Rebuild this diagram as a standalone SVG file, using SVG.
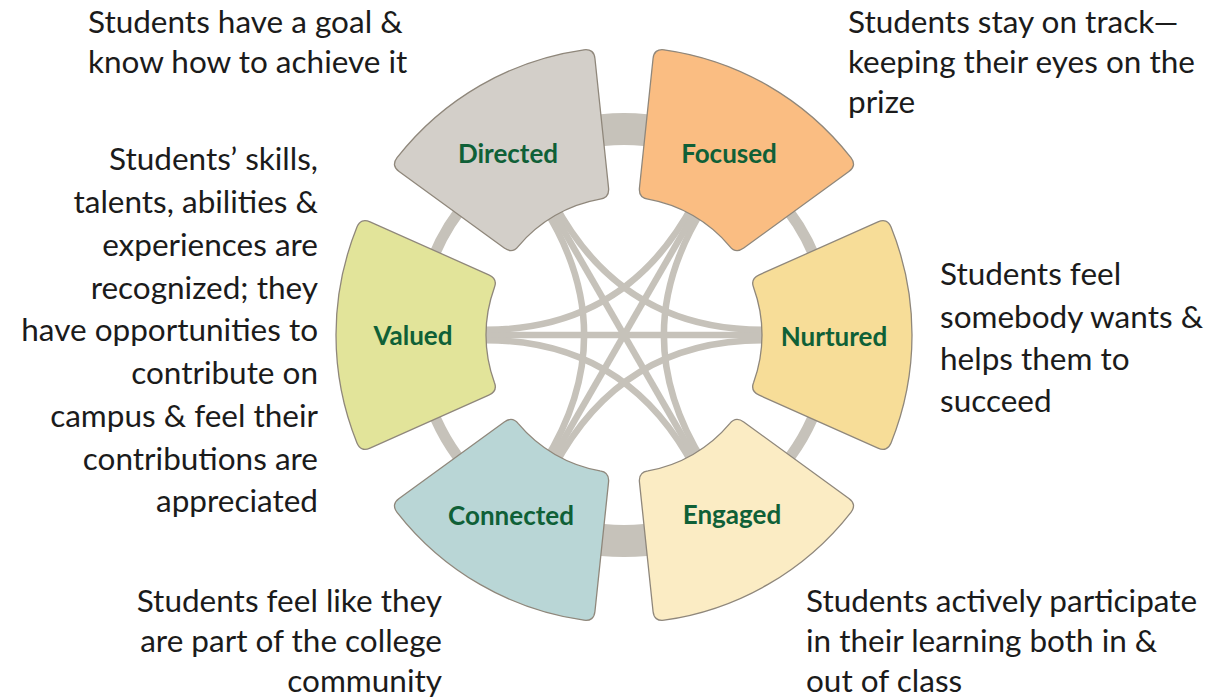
<svg xmlns="http://www.w3.org/2000/svg" xmlns:xlink="http://www.w3.org/1999/xlink" width="1216" height="700" viewBox="0 0 1216 700">
<style>
.chord{fill:none;stroke:#c6c2ba;stroke-width:6.5}
.adj{fill:none;stroke:#c6c2ba}
.sector{stroke:#8f877b;stroke-width:1.3}
.lbl{font-family:Lato,"Open Sans","DejaVu Sans",sans-serif;font-weight:700;font-size:26px;fill:#0f6037;text-anchor:middle}
.desc{font-family:Lato,"Open Sans","DejaVu Sans",sans-serif;font-size:31.5px;fill:#1b1b1b}
.r{text-anchor:end}
</style>
<defs>
<path id="sector" d="M 267.03 -107.89 A 288 288 0 0 1 267.03 107.89 Q 263.10 117.14 253.97 113.07 L 135.21 60.20 Q 126.07 56.13 129.68 47.20 A 138 138 0 0 0 129.68 -47.20 Q 126.07 -56.13 135.21 -60.20 L 253.97 -113.07 Q 263.10 -117.14 267.03 -107.89 Z"/>
</defs>
<rect width="1216" height="700" fill="#ffffff"/>
<g id="connectors">
<path class="adj" stroke-width="11" d="M 819.92 398.66 A 206 206 0 0 1 777.09 472.84"/>
<path class="adj" stroke-width="32" d="M 666.83 536.50 A 206 206 0 0 1 581.17 536.50"/>
<path class="adj" stroke-width="11" d="M 470.91 472.84 A 206 206 0 0 1 428.08 398.66"/>
<path class="adj" stroke-width="11" d="M 428.08 271.34 A 206 206 0 0 1 470.91 197.16"/>
<path class="adj" stroke-width="32" d="M 581.17 133.50 A 206 206 0 0 1 666.83 133.50"/>
<path class="adj" stroke-width="11" d="M 777.09 197.16 A 206 206 0 0 1 819.92 271.34"/>
<path class="chord" d="M 774 340.5 Q 624 335 553.76 467.65"/>
<path class="chord" d="M 774 335 L 474 335"/>
<path class="chord" d="M 774 329.5 Q 624 335 553.76 202.35"/>
<path class="chord" d="M 694.24 467.65 Q 624 335 474 340.5"/>
<path class="chord" d="M 699 464.9 L 549 205.1"/>
<path class="chord" d="M 703.76 462.15 Q 624 335 703.76 207.85"/>
<path class="chord" d="M 544.24 462.15 Q 624 335 544.24 207.85"/>
<path class="chord" d="M 549 464.9 L 699 205.1"/>
<path class="chord" d="M 474 329.5 Q 624 335 694.24 202.35"/>
</g>
<g id="node-directed">
<use xlink:href="#sector" class="sector" fill="#d3cfc9" transform="translate(624 335) rotate(240)"/>
<text class="lbl" x="508" y="163">Directed</text>
</g>
<g id="node-focused">
<use xlink:href="#sector" class="sector" fill="#fabd82" transform="translate(624 335) rotate(300)"/>
<text class="lbl" x="729" y="163">Focused</text>
</g>
<g id="node-nurtured">
<use xlink:href="#sector" class="sector" fill="#f7dd98" transform="translate(624 335) rotate(0)"/>
<text class="lbl" x="834" y="346">Nurtured</text>
</g>
<g id="node-engaged">
<use xlink:href="#sector" class="sector" fill="#fbecc4" transform="translate(624 335) rotate(60)"/>
<text class="lbl" x="732" y="524">Engaged</text>
</g>
<g id="node-connected">
<use xlink:href="#sector" class="sector" fill="#b9d6d6" transform="translate(624 335) rotate(120)"/>
<text class="lbl" x="511" y="525">Connected</text>
</g>
<g id="node-valued">
<use xlink:href="#sector" class="sector" fill="#e2e49a" transform="translate(624 335) rotate(180)"/>
<text class="lbl" x="413" y="345">Valued</text>
</g>
<g id="text-directed">
<text class="desc" x="88" y="33">Students have a goal &amp;</text>
<text class="desc" x="88" y="73">know how to achieve it</text>
</g>
<g id="text-focused">
<text class="desc" x="848" y="33">Students stay on track—</text>
<text class="desc" x="848" y="73">keeping their eyes on the</text>
<text class="desc" x="848" y="113">prize</text>
</g>
<g id="text-valued">
<text class="desc r" x="318" y="170">Students’ skills,</text>
<text class="desc r" x="318" y="213">talents, abilities &amp;</text>
<text class="desc r" x="318" y="256">experiences are</text>
<text class="desc r" x="318" y="299">recognized; they</text>
<text class="desc r" x="318" y="341">have opportunities to</text>
<text class="desc r" x="318" y="384">contribute on</text>
<text class="desc r" x="318" y="427">campus &amp; feel their</text>
<text class="desc r" x="318" y="470">contributions are</text>
<text class="desc r" x="318" y="512">appreciated</text>
</g>
<g id="text-nurtured">
<text class="desc" x="940" y="285">Students feel</text>
<text class="desc" x="940" y="328">somebody wants &amp;</text>
<text class="desc" x="940" y="370">helps them to</text>
<text class="desc" x="940" y="412">succeed</text>
</g>
<g id="text-connected">
<text class="desc r" x="442" y="612">Students feel like they</text>
<text class="desc r" x="442" y="652">are part of the college</text>
<text class="desc r" x="442" y="692">community</text>
</g>
<g id="text-engaged">
<text class="desc" x="806" y="612">Students actively participate</text>
<text class="desc" x="806" y="652">in their learning both in &amp;</text>
<text class="desc" x="806" y="692">out of class</text>
</g>
</svg>
